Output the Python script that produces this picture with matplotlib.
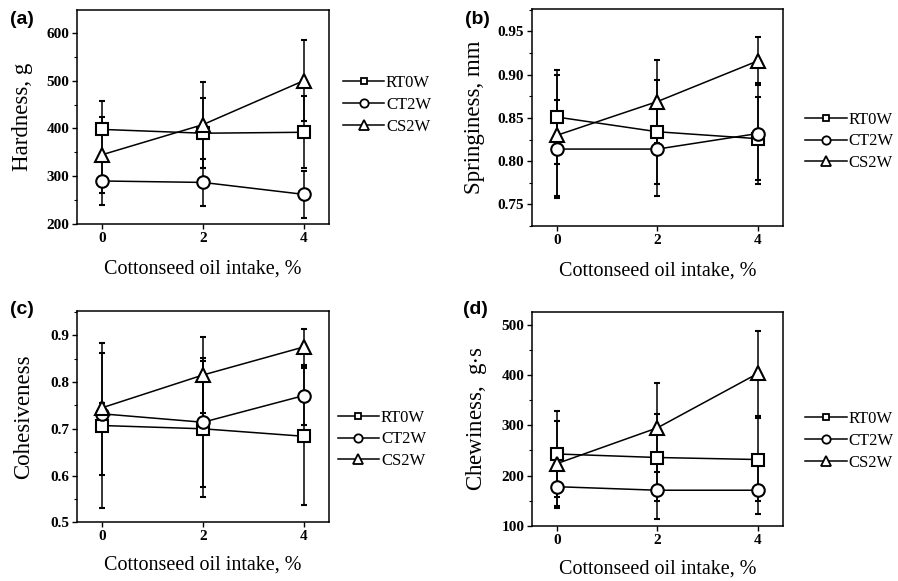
import matplotlib
matplotlib.use("Agg")
import matplotlib.pyplot as plt
from matplotlib.ticker import MultipleLocator
from matplotlib.lines import Line2D

plt.rcParams['font.family'] = ['Liberation Serif', 'DejaVu Serif']
plt.rcParams['mathtext.fontset'] = 'stix'

# ---------------- data ----------------
intake = [0, 2, 4]
series_names = ["RT0W", "CT2W", "CS2W"]

hard_rt = [398, 390, 392]
hard_rt_err = [60, 73, 75]
hard_ct = [290, 287, 262]
hard_ct_err = [50, 50, 49]
hard_cs = [345, 408, 500]
hard_cs_err = [80, 90, 85]

spring_rt = [0.851, 0.834, 0.826]
spring_rt_err = [0.054, 0.060, 0.048]
spring_ct = [0.814, 0.814, 0.832]
spring_ct_err = [0.057, 0.054, 0.058]
spring_cs = [0.830, 0.869, 0.916]
spring_cs_err = [0.070, 0.048, 0.028]

cohes_rt = [0.707, 0.700, 0.684]
cohes_rt_err = [0.177, 0.146, 0.147]
cohes_ct = [0.732, 0.714, 0.771]
cohes_ct_err = [0.130, 0.138, 0.062]
cohes_cs = [0.745, 0.815, 0.875]
cohes_cs_err = [0.010, 0.081, 0.038]

chew_rt = [243, 236, 232]
chew_rt_err = [86, 86, 83]
chew_ct = [178, 171, 171]
chew_ct_err = [43, 57, 48]
chew_cs = [224, 295, 403]
chew_cs_err = [84, 88, 84]

x_ticks = [0, 2, 4]
xlabel = "Cottonseed oil intake, %"

panels = [
    dict(tag="(a)", ylabel="Hardness, g",
         data=[(hard_rt, hard_rt_err), (hard_ct, hard_ct_err), (hard_cs, hard_cs_err)],
         ylim=(200, 648), yticks=[200, 300, 400, 500, 600], ytl=["200", "300", "400", "500", "600"],
         minor=50, rect=[0.0857, 0.6145, 0.2806, 0.3683], leg=(0.995, 0.556),
         tagpos=(10, 20), ylab_x=33, lpad=11),
    dict(tag="(b)", ylabel="Springiness, mm",
         data=[(spring_rt, spring_rt_err), (spring_ct, spring_ct_err), (spring_cs, spring_cs_err)],
         ylim=(0.725, 0.976), yticks=[0.75, 0.80, 0.85, 0.90, 0.95],
         ytl=["0.75", "0.80", "0.85", "0.90", "0.95"],
         minor=0.025, rect=[0.5924, 0.6110, 0.2795, 0.3735], leg=(1.03, 0.39),
         tagpos=(465, 20), ylab_x=485, lpad=11),
    dict(tag="(c)", ylabel="Cohesiveness",
         data=[(cohes_rt, cohes_rt_err), (cohes_ct, cohes_ct_err), (cohes_cs, cohes_cs_err)],
         ylim=(0.5, 0.951), yticks=[0.5, 0.6, 0.7, 0.8, 0.9],
         ytl=["0.5", "0.6", "0.7", "0.8", "0.9"],
         minor=0.05, rect=[0.0857, 0.1010, 0.2806, 0.3630], leg=(0.975, 0.393),
         tagpos=(10, 310), ylab_x=34, lpad=9),
    dict(tag="(d)", ylabel="Chewiness,  g$\\cdot$s",
         data=[(chew_rt, chew_rt_err), (chew_ct, chew_ct_err), (chew_cs, chew_cs_err)],
         ylim=(100, 525), yticks=[100, 200, 300, 400, 500],
         ytl=["100", "200", "300", "400", "500"],
         minor=50, rect=[0.5924, 0.0947, 0.2795, 0.3683], leg=(1.03, 0.397),
         tagpos=(463, 310), ylab_x=489, lpad=9),
]

markers = ["s", "o", "^"]
msizes = [8, 9, 10]
leg_msizes = [5, 6, 6.5]

W, H = 898, 581
fig = plt.figure(figsize=(W / 100, H / 100), dpi=100)

for p in panels:
    ax = fig.add_axes(p["rect"])
    handles = []
    for (vals, errs), name, mk, ms, lms in zip(p["data"], series_names, markers, msizes, leg_msizes):
        ax.errorbar(intake, vals, yerr=errs, color="black", lw=1.1,
                    marker=mk, ms=ms, mfc="white", mec="black", mew=1.5,
                    elinewidth=1.1, capsize=2.5, capthick=1.0)
        handles.append(Line2D([], [], color="black", lw=1.1, marker=mk, ms=lms,
                              mfc="white", mec="black", mew=1.3, label=name))
    ax.set_xlim(-0.5, 4.5)
    ax.set_ylim(*p["ylim"])
    ax.set_xticks(x_ticks)
    ax.set_xticklabels([str(v) for v in x_ticks], fontweight="bold", fontsize=11)
    ax.set_yticks(p["yticks"])
    ax.set_yticklabels(p["ytl"], fontweight="bold", fontsize=11)
    ax.yaxis.set_minor_locator(MultipleLocator(p["minor"]))
    ax.tick_params(axis="both", which="major", direction="out", length=3.5, width=1, pad=2)
    ax.tick_params(axis="y", which="minor", direction="out", length=2.5, width=0.8)
    for s in ax.spines.values():
        s.set_linewidth(1.1)
    ax.set_xlabel(xlabel, fontsize=14.5, labelpad=p["lpad"])
    ax.set_ylabel(p["ylabel"], fontsize=16.5)
    ax.yaxis.set_label_coords((p["ylab_x"] / W - p["rect"][0]) / p["rect"][2], 0.5)
    ax.legend(handles=handles, loc="center left", bbox_to_anchor=p["leg"], frameon=False,
              fontsize=12, handlelength=2.5, handletextpad=0.1, labelspacing=0.35)
    fig.text(p["tagpos"][0] / W, 1 - p["tagpos"][1] / H, p["tag"],
             family="Liberation Sans", fontweight="bold", fontsize=14,
             ha="left", va="center")

fig.savefig("out.png", dpi=100)
